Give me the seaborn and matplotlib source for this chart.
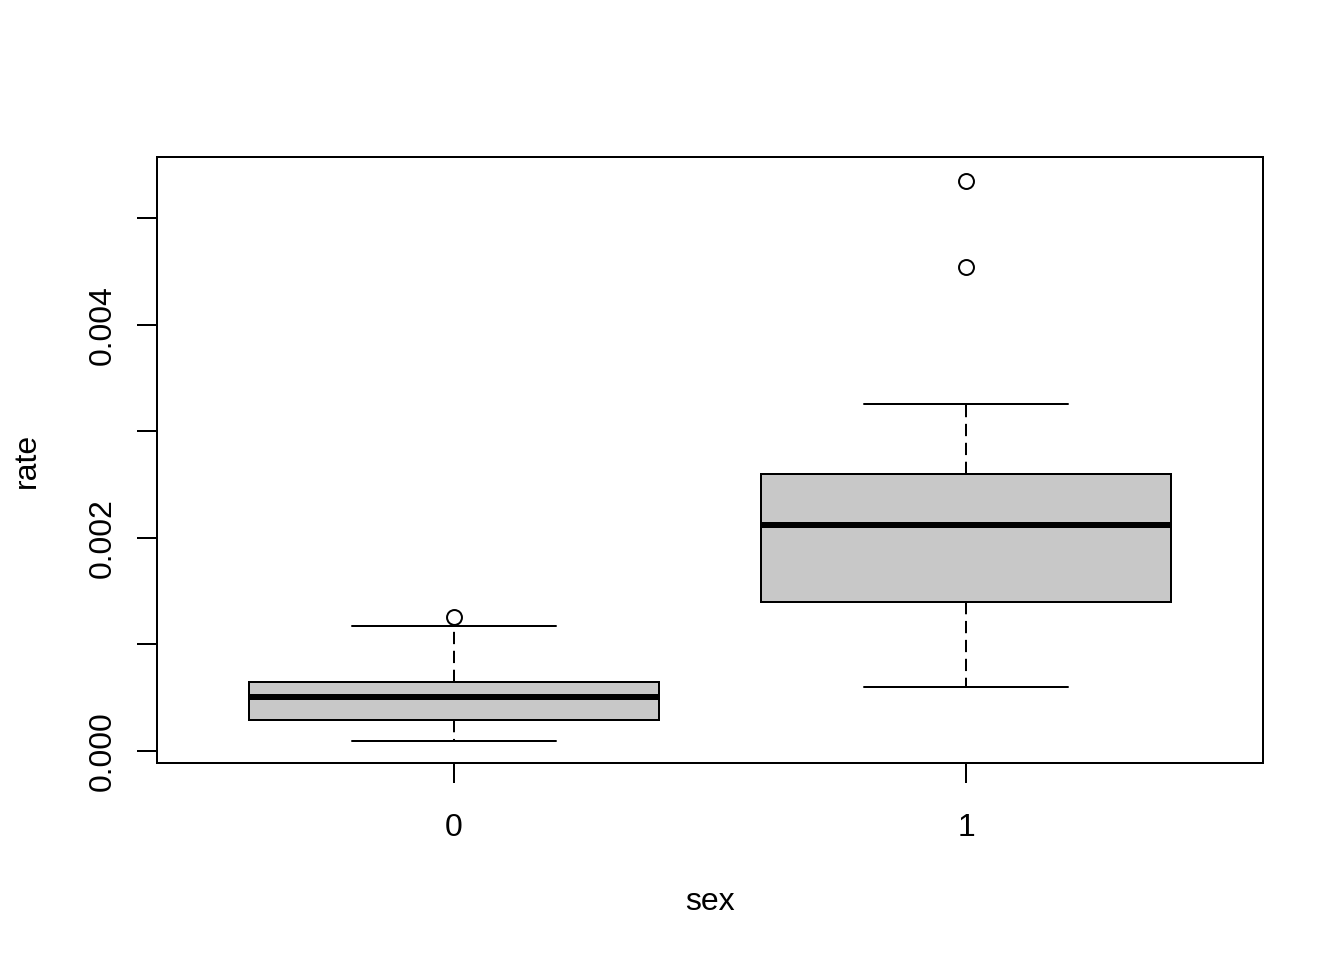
import numpy as np
import pandas as pd
import matplotlib
matplotlib.use("Agg")
import matplotlib.pyplot as plt
import seaborn as sns

# Data (values chosen so the box statistics match)
sex_levels = ["0", "1"]
rate_sex0 = [0.000094, 0.000200, 0.000290, 0.000420, 0.000503, 0.000580,
             0.000646, 0.001170, 0.001258]
rate_sex1 = [0.000596, 0.000900, 0.001200, 0.001402, 0.001600, 0.001900,
             0.002123, 0.002300, 0.002450, 0.002597, 0.003256, 0.004548,
             0.005353]
ytick_values = [0.000, 0.001, 0.002, 0.003, 0.004, 0.005]
ytick_labels = ["0.000", "", "0.002", "", "0.004", ""]

df = pd.DataFrame({
    "sex": [sex_levels[0]] * len(rate_sex0) + [sex_levels[1]] * len(rate_sex1),
    "rate": rate_sex0 + rate_sex1,
})

sns.set_style("ticks")
plt.rcParams["font.family"] = ["Liberation Sans", "DejaVu Sans"]
plt.rcParams["font.size"] = 12
plt.rcParams["text.color"] = "black"
plt.rcParams["lines.scale_dashes"] = False

W, H, DPI = 1344, 960, 192
fig = plt.figure(figsize=(W / DPI, H / DPI), dpi=DPI)
ax = fig.add_axes([157 / W, 1 - 763 / H, (1263 - 157) / W, (763 - 157) / H])

lw = 0.75
sns.boxplot(
    data=df, x="sex", y="rate", order=sex_levels, ax=ax,
    color="#C8C8C8", width=0.8, whis=1.5, linecolor="black", linewidth=lw,
    saturation=1,
    boxprops=dict(facecolor="#C8C8C8", edgecolor="black", linewidth=lw),
    medianprops=dict(color="black", linewidth=2.25, solid_capstyle="butt"),
    whiskerprops=dict(color="black", linewidth=lw, linestyle=(0, (4.6, 2.5))),
    capprops=dict(color="black", linewidth=lw),
    flierprops=dict(marker="o", markersize=5.6, markerfacecolor="none",
                    markeredgecolor="black", markeredgewidth=lw),
    capwidths=0.4,
)

ax.set_xlim(-0.58, 1.58)
ax.set_ylim(-0.000113, 0.005577)
ax.set_yticks(ytick_values)
ax.set_yticklabels(ytick_labels, rotation=90, va="center")
ax.set_xticks([0, 1])
ax.set_xticklabels(sex_levels)

for s in ax.spines.values():
    s.set_visible(True)
    s.set_color("black")
    s.set_linewidth(lw)

ax.tick_params(axis="both", which="major", direction="out", length=7.4,
               width=lw, color="black", labelsize=12, labelcolor="black",
               bottom=True, left=True, top=False, right=False)
ax.tick_params(axis="x", pad=11.3)
ax.tick_params(axis="y", pad=7.5)
ax.grid(False)
ax.set_xlabel("")
ax.set_ylabel("")

fig.text(710 / W, 1 - 910 / H, "sex", ha="center", va="baseline",
         fontsize=12, color="black")
fig.text(35 / W, 1 - 460 / H, "rate", ha="center", va="baseline",
         rotation=90, rotation_mode="anchor", fontsize=12, color="black")

fig.savefig("out.png", dpi=DPI, facecolor="white")
